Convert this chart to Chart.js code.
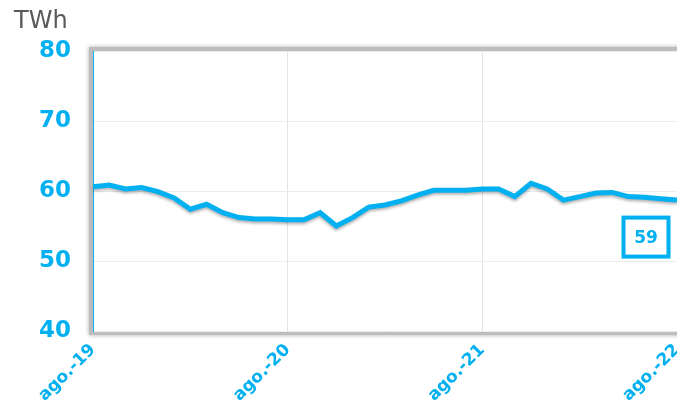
<!DOCTYPE html>
<html lang="es">
<head>
    <meta charset="UTF-8">
    <title>TWh</title>
    <script src="https://cdn.jsdelivr.net/npm/chart.js"></script>
    <style>
        body { margin: 0; padding: 0; background: #fff; }
        #wrap { width: 677px; height: 408px; position: relative; }
    </style>
</head>
<body>
    <div id="wrap">
        <canvas id="chart" width="677" height="408"></canvas>
    </div>
    <script>
        // meses ago.-19 .. ago.-22
        const months = [
            'ago.-19', 'sep.-19', 'oct.-19', 'nov.-19', 'dic.-19', 'ene.-20', 'feb.-20', 'mar.-20', 'abr.-20', 'may.-20', 'jun.-20', 'jul.-20',
            'ago.-20', 'sep.-20', 'oct.-20', 'nov.-20', 'dic.-20', 'ene.-21', 'feb.-21', 'mar.-21', 'abr.-21', 'may.-21', 'jun.-21', 'jul.-21',
            'ago.-21', 'sep.-21', 'oct.-21', 'nov.-21', 'dic.-21', 'ene.-22', 'feb.-22', 'mar.-22', 'abr.-22', 'may.-22', 'jun.-22', 'jul.-22',
            'ago.-22'
        ];
        const values = [
            60.6, 60.85, 60.3, 60.5, 59.9, 59.0, 57.4, 58.1, 56.9, 56.2, 56.0, 56.0,
            55.9, 55.9, 56.9, 55.0, 56.2, 57.7, 58.0, 58.6, 59.4, 60.1, 60.1, 60.1,
            60.3, 60.3, 59.2, 61.1, 60.3, 58.7, 59.2, 59.7, 59.8, 59.2, 59.1, 58.9,
            58.7
        ];
        const yTicks = [40, 50, 60, 70, 80];
        const unit = 'TWh';

        const blue = '#00b0f0';

        const framePlugin = {
            id: 'frame',
            beforeDraw(chart) {
                const a = chart.chartArea;
                const ctx = chart.ctx;
                ctx.save();
                ctx.shadowColor = 'rgba(0,0,0,0.35)';
                ctx.shadowBlur = 4;
                ctx.strokeStyle = '#bdbdbd';
                ctx.lineWidth = 4;
                ctx.strokeRect(a.left - 2, a.top - 2, a.right - a.left + 4, a.bottom - a.top + 4);
                ctx.shadowColor = 'transparent';
                ctx.fillStyle = '#fff';
                ctx.fillRect(a.left, a.top, a.right - a.left, a.bottom - a.top);
                ctx.restore();
                // unidad
                ctx.save();
                ctx.font = '24px "DejaVu Sans"';
                ctx.fillStyle = '#595959';
                ctx.textBaseline = 'alphabetic';
                ctx.fillText(unit, 14, 28);
                ctx.restore();
            },
            beforeDatasetDraw(chart) {
                chart.ctx.save();
                chart.ctx.shadowColor = 'rgba(0,0,0,0.3)';
                chart.ctx.shadowBlur = 3;
                chart.ctx.shadowOffsetY = 2;
            },
            afterDatasetDraw(chart) {
                chart.ctx.restore();
            },
            afterDatasetsDraw(chart) {
                const meta = chart.getDatasetMeta(0);
                const pt = meta.data[meta.data.length - 1];
                const ctx = chart.ctx;
                const cx = pt.x - 31, cy = pt.y + 37;
                const w = 45, h = 39;
                ctx.save();
                ctx.fillStyle = '#fff';
                ctx.fillRect(cx - w / 2, cy - h / 2, w, h);
                ctx.strokeStyle = blue;
                ctx.lineWidth = 4;
                ctx.strokeRect(cx - w / 2, cy - h / 2, w, h);
                ctx.fillStyle = blue;
                ctx.font = 'bold 17px "DejaVu Sans"';
                ctx.textAlign = 'center';
                ctx.textBaseline = 'middle';
                ctx.fillText(String(Math.round(values[values.length - 1])), cx, cy + 1);
                ctx.restore();
            }
        };

        new Chart(document.getElementById('chart'), {
            type: 'line',
            data: {
                labels: months,
                datasets: [{
                    data: values,
                    borderColor: blue,
                    borderWidth: 5,
                    pointRadius: 0,
                    tension: 0,
                    fill: false
                }]
            },
            options: {
                responsive: false,
                animation: false,
                layout: { padding: { top: 51, right: 0, left: 0, bottom: 0 } },
                plugins: {
                    legend: { display: false },
                    tooltip: { enabled: false }
                },
                scales: {
                    x: {
                        offset: false,
                        grid: {
                            color: '#e3e3e3',
                            drawTicks: false
                        },
                        border: { display: false },
                        ticks: {
                            autoSkip: false,
                            maxRotation: 45,
                            minRotation: 45,
                            padding: 9,
                            color: blue,
                            font: { family: '"DejaVu Sans"', size: 17, weight: 'bold' },
                            callback: function (value, i) {
                                return i % 12 === 0 ? this.getLabelForValue(value) : null;
                            }
                        },
                        afterFit(scale) {
                            scale.height = 77;
                            scale.paddingLeft = 0;
                            scale.paddingRight = 0;
                        }
                    },
                    y: {
                        min: yTicks[0],
                        max: yTicks[yTicks.length - 1],
                        grid: {
                            color: '#ececec',
                            drawTicks: false
                        },
                        border: { display: true, color: blue, width: 1 },
                        ticks: {
                            stepSize: 10,
                            padding: 22,
                            color: blue,
                            font: { family: '"DejaVu Sans"', size: 23, weight: 'bold' }
                        },
                        afterFit(scale) {
                            scale.width = 93;
                            scale.paddingTop = 0;
                            scale.paddingBottom = 0;
                        }
                    }
                }
            },
            plugins: [framePlugin]
        });
    </script>
</body>
</html>
